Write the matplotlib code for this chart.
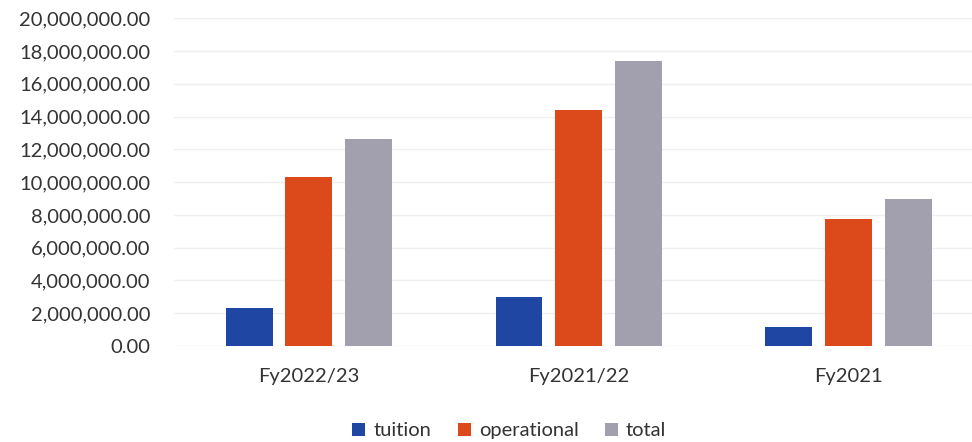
import matplotlib.pyplot as plt
import numpy as np
from matplotlib.ticker import FuncFormatter

# fiscal year spending
years = ['Fy2022/23', 'Fy2021/22', 'Fy2021']
tuition = [2340000, 2970000, 1180000]
operational = [10290000, 14390000, 7740000]
total = [12640000, 17400000, 8940000]

series = ['tuition', 'operational', 'total']
colors = ['#1f46a2', '#dc4a1c', '#a29fae']

plt.rcParams['font.family'] = ['Lato', 'DejaVu Sans']

fig = plt.figure(figsize=(9.72, 4.42), dpi=100)
ax = fig.add_axes([0.179, 0.217, 0.821, 0.742])

x = np.arange(len(years))
w = 0.174
step = 0.222
for i, (name, vals) in enumerate(zip(series, [tuition, operational, total])):
    ax.bar(x + (i - 1) * step, vals, width=w, color=colors[i], label=name)

ax.set_xlim(-0.5, 2.456)
ax.set_ylim(0, 20000000)
ax.set_yticks(np.arange(0, 20000001, 2000000))
ax.yaxis.set_major_formatter(FuncFormatter(lambda v, p: f'{v:,.2f}'))
ax.set_xticks(x)
ax.set_xticklabels(years)

ax.grid(axis='y', color='#efefef', linewidth=1)
ax.set_axisbelow(True)
for s in ax.spines.values():
    s.set_visible(False)
ax.tick_params(length=0, labelsize=14.5, colors='#333333')
ax.tick_params(axis='y', pad=17)
ax.tick_params(axis='x', pad=16)

fig.legend(loc='center', bbox_to_anchor=(0.524, 0.025), ncol=3, frameon=False,
           fontsize=14.5, handlelength=0.65, handleheight=0.65, handletextpad=0.4,
           columnspacing=1.3, labelcolor='#333333')

fig.savefig('out.png', dpi=100)
